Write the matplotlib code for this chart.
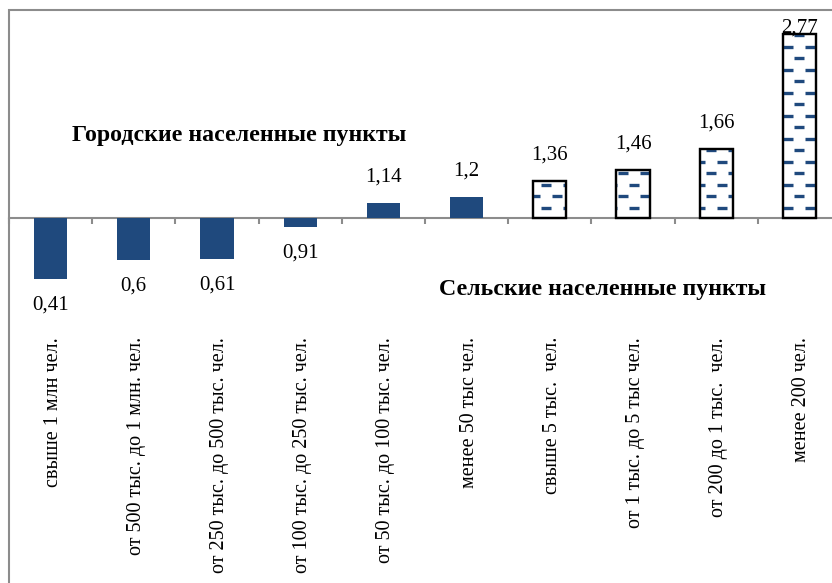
import numpy as np
import matplotlib.pyplot as plt
from matplotlib.patches import Rectangle
from matplotlib.transforms import blended_transform_factory

# data
categories = ['свыше 1 млн чел.', 'от 500 тыс. до 1 млн. чел.',
              'от 250 тыс. до 500 тыс. чел.', 'от 100 тыс. до 250 тыс. чел.',
              'от 50 тыс. до 100 тыс. чел.', 'менее 50 тыс чел.',
              'свыше 5 тыс.  чел.', 'от 1 тыс. до 5 тыс чел.',
              'от 200 до 1 тыс.  чел.', 'менее 200 чел.']
values = [0.41, 0.6, 0.61, 0.91, 1.14, 1.2, 1.36, 1.46, 1.66, 2.77]
labels = ['0,41', '0,6', '0,61', '0,91', '1,14', '1,2', '1,36', '1,46', '1,66', '2,77']
rural = [False] * 6 + [True] * 4
base = 1.0

blue = '#1f497d'
plt.rcParams['font.family'] = ['Liberation Serif', 'DejaVu Serif']

W, H = 832, 583
fig = plt.figure(figsize=(W / 100, H / 100), dpi=100)
# axes: x 9..841 px, y 10..322 px
ax = fig.add_axes([9 / W, 1 - 322 / H, 832 / W, 312 / H])
ax.set_xlim(-0.5, 9.5)
ax.set_ylim(0, 3)

x = np.arange(len(values))
heights = [v - base for v in values]
bw = 0.4
for i, (h, r) in enumerate(zip(heights, rural)):
    if not r:
        ax.bar(x[i], h, bw, bottom=base, color=blue, edgecolor='none', zorder=3)
    else:
        bar = ax.bar(x[i], h, bw, bottom=base, facecolor='white',
                     edgecolor='black', linewidth=1.6, zorder=3)[0]
        # dashed fill pattern, clipped to the bar
        dy = 11.5 / 104
        per = 22 / 83.2
        dl = 10 / 83.2
        k = 0
        yy = base + 0.1
        while yy < values[i]:
            shift = 0.5 * per if k % 2 == 0 else 0.0
            xs = 9 + shift + per * np.arange(-40, 5)
            segs = ax.hlines([yy] * len(xs), xs - dl / 2, xs + dl / 2,
                             colors=blue, linewidth=2.4, zorder=4)
            segs.set_clip_path(bar)
            k += 1
            yy += dy
        # redraw edge on top of dashes
        ax.bar(x[i], h, bw, bottom=base, facecolor='none',
               edgecolor='black', linewidth=1.6, zorder=5)

# value labels
off = 26 / 104
for i, v in enumerate(values):
    if v >= base:
        ax.text(x[i], min(v + off, 2.83), labels[i], ha='center', va='center',
                fontsize=15, zorder=6)
    else:
        ax.text(x[i], v - off, labels[i], ha='center', va='center',
                fontsize=15, zorder=6)

# axis line at 1 with ticks at category boundaries
for s in ['top', 'right', 'left']:
    ax.spines[s].set_visible(False)
ax.spines['bottom'].set_position(('data', base))
ax.spines['bottom'].set_color('#8c8c8c')
ax.spines['bottom'].set_linewidth(1.5)
ax.set_xticks(np.arange(-0.5, 10, 1))
ax.set_xticklabels([])
ax.tick_params(axis='x', direction='out', length=4, width=1.5, color='#8c8c8c')
ax.set_yticks([])
ax.patch.set_alpha(0)

# category labels below the plot area
tr = blended_transform_factory(ax.transData, ax.transAxes)
for i, c in enumerate(categories):
    ax.text(x[i] + 0.03, -15 / 312, c, transform=tr, rotation=90,
            ha='center', va='top', fontsize=14.5, clip_on=False)

ax.text(63 / 832, (322 - 135) / 312, 'Городские населенные пункты',
        transform=ax.transAxes, ha='left', va='center', fontsize=17.2,
        fontweight='bold')
ax.text(430 / 832, (322 - 290) / 312, 'Сельские населенные пункты',
        transform=ax.transAxes, ha='left', va='center', fontsize=17.2,
        fontweight='bold')

# chart frame (extends past the right and bottom edges)
fig.patches.append(Rectangle((9 / W, -0.1), 1.2, 1 - 10 / H + 0.1,
                             transform=fig.transFigure, fill=False,
                             edgecolor='#8c8c8c', linewidth=1.5))

fig.savefig('out.png', dpi=100)
